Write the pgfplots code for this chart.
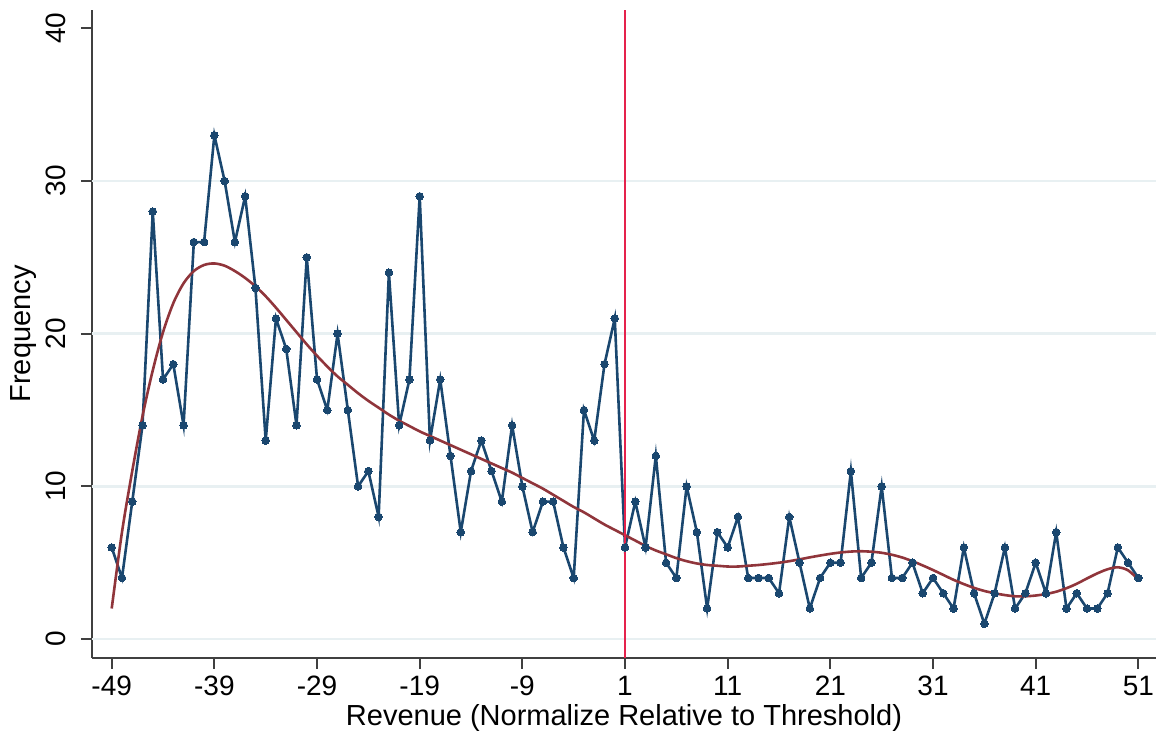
\documentclass[border=0pt]{standalone}
\usepackage{fontspec}
\setmainfont{Liberation Sans}
\usepackage{pgfplots}
\pgfplotsset{compat=1.18}
\usepackage{pgfplotstable}
\definecolor{stnavy}{HTML}{1A476F}
\definecolor{stmaroon}{HTML}{90353B}
\definecolor{vred}{HTML}{E5224C}
\definecolor{gridc}{HTML}{E8F0F2}
\pgfplotstableread{
x y
-49 6
-48 4
-47 9
-46 14
-45 28
-44 17
-43 18
-42 14
-41 26
-40 26
-39 33
-38 30
-37 26
-36 29
-35 23
-34 13
-33 21
-32 19
-31 14
-30 25
-29 17
-28 15
-27 20
-26 15
-25 10
-24 11
-23 8
-22 24
-21 14
-20 17
-19 29
-18 13
-17 17
-16 12
-15 7
-14 11
-13 13
-12 11
-11 9
-10 14
-9 10
-8 7
-7 9
-6 9
-5 6
-4 4
-3 15
-2 13
-1 18
0 21
1 6
2 9
3 6
4 12
5 5
6 4
7 10
8 7
9 2
10 7
11 6
12 8
13 4
14 4
15 4
16 3
17 8
18 5
19 2
20 4
21 5
22 5
23 11
24 4
25 5
26 10
27 4
28 4
29 5
30 3
31 4
32 3
33 2
34 6
35 3
36 1
37 3
38 6
39 2
40 3
41 5
42 3
43 7
44 2
45 3
46 2
47 2
48 3
49 6
50 5
51 4
}\freq
\pgfplotstableread{
x y
-49 2.0
-48 7.0
-47 11.0
-46 14.6
-45 17.6
-44 20.1
-43 22.0
-42 23.3
-41 24.1
-40 24.5
-39 24.6
-38 24.45
-37 24.1
-36 23.65
-35 23.1
-34 22.45
-33 21.7
-32 20.9
-31 20.1
-30 19.3
-29 18.55
-28 17.85
-27 17.2
-26 16.65
-25 16.1
-24 15.6
-23 15.15
-22 14.7
-21 14.3
-20 13.95
-19 13.6
-18 13.3
-17 13.0
-16 12.7
-15 12.4
-14 12.1
-13 11.8
-12 11.5
-11 11.2
-10 10.9
-9 10.55
-8 10.2
-7 9.85
-6 9.45
-5 9.05
-4 8.65
-3 8.3
-2 7.9
-1 7.5
0 7.15
1 6.8
2 6.45
3 6.1
4 5.8
5 5.55
6 5.3
7 5.1
8 4.95
9 4.85
10 4.8
11 4.75
12 4.75
13 4.8
14 4.85
15 4.92
16 5.0
17 5.1
18 5.22
19 5.35
20 5.47
21 5.58
22 5.67
23 5.73
24 5.75
25 5.72
26 5.65
27 5.52
28 5.34
29 5.1
30 4.82
31 4.52
32 4.2
33 3.88
34 3.6
35 3.35
36 3.15
37 3.0
38 2.88
39 2.8
40 2.8
41 2.85
42 2.95
43 3.1
44 3.33
45 3.62
46 3.97
47 4.3
48 4.57
49 4.7
50 4.5
51 3.9
}\fit
\begin{document}
\begin{tikzpicture}
\begin{axis}[
  scale only axis,
  width=532pt, height=324pt,
  xmin=-50.92, xmax=52.72,
  ymin=-1.24, ymax=41.2,
  axis x line=bottom, axis y line=left,
  axis line style={-, black!75, line width=0.9pt},
  xtick={-49,-39,...,51},
  ytick={0,10,...,40},
  tick align=outside,
  major tick length=5.5pt,
  tick style={black!75, line width=0.9pt},
  extra y ticks={0,10,20,30},
  extra y tick labels={},
  extra y tick style={grid=major, major tick length=0pt},
  grid style={gridc, line width=1.2pt},
  /pgf/number format/assume math mode=true,
  ticklabel style={font=\fontsize{14}{16}\selectfont},
  yticklabel style={rotate=90, anchor=south},
  yticklabel shift=4pt,
  label style={font=\fontsize{14.5}{16}\selectfont},
  xlabel={Revenue (Normalize Relative to Threshold)},
  ylabel={Frequency},
  xlabel style={at={(axis description cs:0.5,0)}, anchor=center, yshift=-30pt},
  ylabel style={at={(axis description cs:0,0.5)}, anchor=center, yshift=34pt},
  clip=false,
]
\addplot[stnavy, line width=1.3pt, mark=*, mark size=1.9pt, mark options={fill=stnavy, draw=stnavy, line width=0pt}] table[x=x,y=y] {\freq};
\addplot[stmaroon, line width=1.3pt, smooth, no markers] table[x=x,y=y] {\fit};
\addplot[vred, line width=1.1pt, no markers] coordinates {(1,-1.24) (1,41.2)};
\end{axis}
\pgfresetboundingbox
\path[use as bounding box] ([xshift=-46pt,yshift=-42pt]current axis.south west) rectangle ([yshift=5pt]current axis.north east);
\end{tikzpicture}
\end{document}
